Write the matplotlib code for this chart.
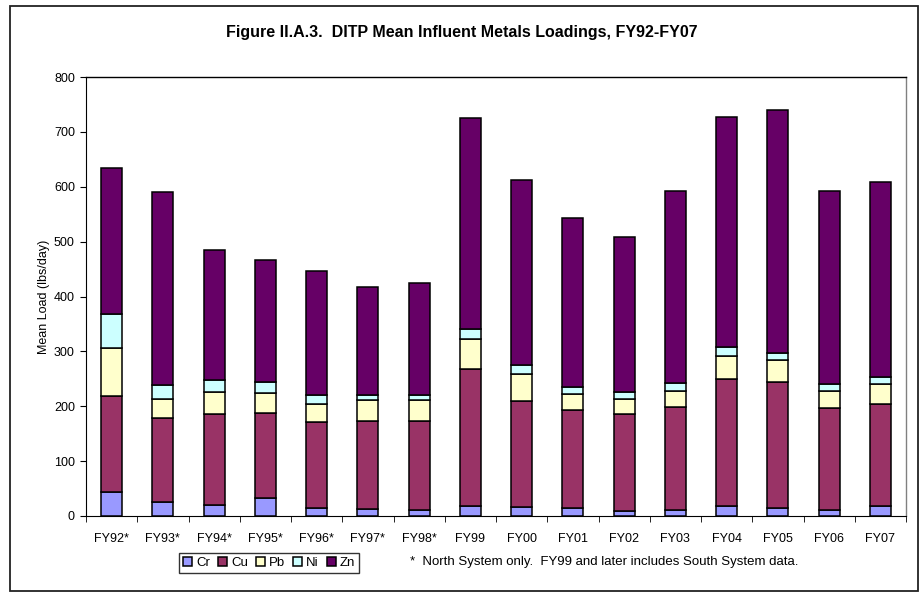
import numpy as np
import matplotlib.pyplot as plt
from matplotlib.patches import Rectangle

plt.rcParams['font.family'] = ['Liberation Sans', 'DejaVu Sans']

years = ["FY92*", "FY93*", "FY94*", "FY95*", "FY96*", "FY97*", "FY98*", "FY99",
         "FY00", "FY01", "FY02", "FY03", "FY04", "FY05", "FY06", "FY07"]
cr = [44, 25, 20, 32, 14, 12, 11, 18, 16, 14, 10, 11, 18, 15, 11, 19]
cu = [175, 153, 166, 156, 158, 162, 162, 249, 194, 179, 176, 188, 232, 230, 185, 185]
pb = [87, 36, 40, 36, 33, 37, 38, 56, 48, 29, 28, 29, 42, 39, 32, 36]
ni = [62, 24, 22, 21, 16, 10, 9, 17, 18, 13, 12, 14, 16, 13, 12, 13]
zn = [267, 353, 237, 222, 225, 197, 205, 386, 337, 308, 283, 350, 420, 442, 352, 355]

metals = ["Cr", "Cu", "Pb", "Ni", "Zn"]
colors = ["#9999FF", "#993366", "#FFFFCC", "#CCFFFF", "#660066"]

fig = plt.figure(figsize=(9.22, 5.93), dpi=100)
fig.patches.append(Rectangle((9.5 / 922, 1 - 591 / 593), 908.5 / 922, 585 / 593,
                             transform=fig.transFigure, fill=False,
                             edgecolor="#222222", linewidth=1.3))

ax = fig.add_axes([86 / 922, 1 - 516 / 593, 820 / 922, 439 / 593])
x = np.arange(len(years))
bottom = np.zeros(len(years))
for name, vals, c in zip(metals, [cr, cu, pb, ni, zn], colors):
    ax.bar(x, vals, 0.41, bottom=bottom, color=c, edgecolor="black",
           linewidth=1.1, label=name, zorder=3)
    bottom += np.array(vals)

ax.set_xlim(-0.5, len(years) - 0.5)
ax.set_ylim(0, 800)
ax.set_yticks(range(0, 801, 100))
ax.set_xticks(x)
ax.set_xticklabels(years, fontsize=9)
ax.set_xticks(np.arange(-0.5, len(years), 1), minor=True)
ax.tick_params(axis="x", which="major", length=0, pad=12)
ax.tick_params(axis="x", which="minor", length=4, direction="out")
ax.tick_params(axis="y", labelsize=9, length=4, direction="out", pad=4)
ax.spines["top"].set_color("black")
ax.spines["right"].set_color("#808080")
ax.spines["top"].set_linewidth(1.0)
ax.spines["right"].set_linewidth(1.0)
ax.set_ylabel("Mean Load (lbs/day)", fontsize=9, labelpad=3)

fig.text(462 / 922, 1 - 32 / 593, "Figure II.A.3.  DITP Mean Influent Metals Loadings, FY92-FY07",
         ha="center", va="center", fontsize=11.5, fontweight="bold")

fig.legend(loc="center", bbox_to_anchor=(269 / 922, 1 - 563 / 593), ncol=5,
           fontsize=9.5, frameon=True, fancybox=False, edgecolor="black",
           handlelength=0.7, handleheight=0.7, handletextpad=0.3,
           columnspacing=0.6, borderpad=0.3, borderaxespad=0)

fig.text(410 / 922, 1 - 562 / 593,
         "*  North System only.  FY99 and later includes South System data.",
         ha="left", va="center", fontsize=9.5)

fig.savefig("out.png", dpi=100)
